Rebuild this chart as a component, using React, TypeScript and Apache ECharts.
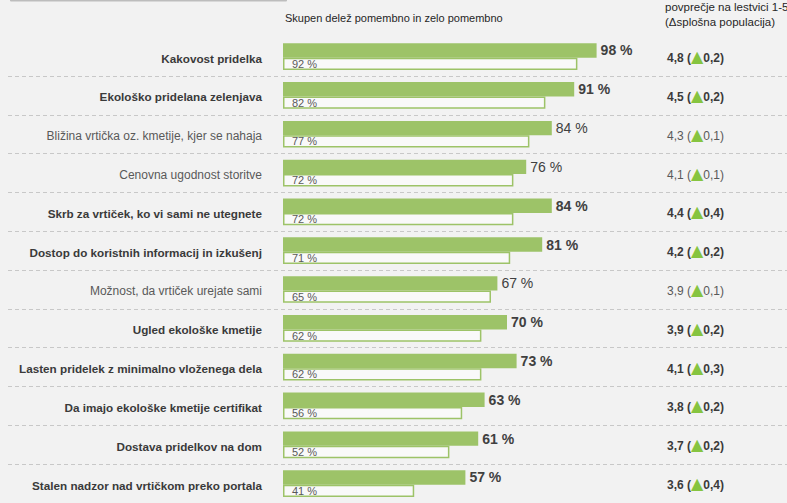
import React, { useEffect, useRef } from "react";
import * as echarts from "echarts";

const categories = [
  "Kakovost pridelka",
  "Ekološko pridelana zelenjava",
  "Bližina vrtička oz. kmetije, kjer se nahaja",
  "Cenovna ugodnost storitve",
  "Skrb za vrtiček, ko vi sami ne utegnete",
  "Dostop do koristnih informacij in izkušenj",
  "Možnost, da vrtiček urejate sami",
  "Ugled ekološke kmetije",
  "Lasten pridelek z minimalno vloženega dela",
  "Da imajo ekološke kmetije certifikat",
  "Dostava pridelkov na dom",
  "Stalen nadzor nad vrtičkom preko portala",
];
const shareTarget = [98, 91, 84, 76, 84, 81, 67, 70, 73, 63, 61, 57];
const shareGeneral = [92, 82, 77, 72, 72, 71, 65, 62, 62, 56, 52, 41];
const meanScore = ["4,8", "4,5", "4,3", "4,1", "4,4", "4,2", "3,9", "3,9", "4,1", "3,8", "3,7", "3,6"];
const meanDelta = ["0,2", "0,2", "0,1", "0,1", "0,4", "0,2", "0,1", "0,2", "0,3", "0,2", "0,2", "0,4"];
const significant = [true, true, false, false, true, true, false, true, true, true, true, true];

const headerLeft = "Skupen delež pomembno in zelo pomembno";
const headerRight1 = "povprečje na lestvici 1-5";
const headerRight2 = "(Δsplošna populacija)";

const GREEN = "#9dc368";
const FONT = "'Liberation Sans', Arial, sans-serif";

export default function App() {
  const ref = useRef<HTMLDivElement>(null);
  useEffect(() => {
    if (!ref.current) return;
    const chart = echarts.init(ref.current, null, { renderer: "svg" });
    const top = 37.2;
    const height = 474;
    const option: any = {
      animation: false,
      backgroundColor: "#f2f2f2",
      textStyle: { fontFamily: FONT },
      grid: [
        { left: 8, right: 0, top, height },
        { left: 283, width: 320, top, height },
      ],
      xAxis: [
        { gridIndex: 0, type: "value", min: 0, max: 1, show: false },
        { gridIndex: 1, type: "value", min: 0, max: 100, show: false },
      ],
      yAxis: [
        {
          gridIndex: 0,
          type: "category",
          data: categories,
          inverse: true,
          axisLine: { show: false },
          axisTick: { show: false },
          axisLabel: { show: false },
          splitLine: {
            show: true,
            showMinLine: false,
            lineStyle: { type: [4, 3], color: "#c8c8c8", width: 1 },
          },
        },
        {
          gridIndex: 1,
          type: "category",
          data: categories,
          inverse: true,
          axisLine: { show: false },
          axisTick: { show: false },
          splitLine: { show: false },
          axisLabel: {
            margin: 21,
            formatter: (v: string, i: number) => (significant[i] ? `{b|${v}}` : `{n|${v}}`),
            rich: {
              b: { fontFamily: FONT, fontSize: 11.7, fontWeight: "bold", color: "#3a3a3a", padding: [3, 0, 0, 0] },
              n: { fontFamily: FONT, fontSize: 12, color: "#595959", padding: [3, 0, 0, 0] },
            },
          },
        },
        {
          gridIndex: 1,
          type: "category",
          data: categories,
          inverse: true,
          position: "right",
          axisLine: { show: false },
          axisTick: { show: false },
          splitLine: { show: false },
          axisLabel: {
            margin: 64,
            align: "left",
            formatter: (_v: string, i: number) => {
              const s = significant[i] ? "b" : "n";
              return `{${s}|${meanScore[i]} (}{t|▲}{${s}|${meanDelta[i]})}`;
            },
            rich: {
              b: { fontFamily: FONT, fontSize: 12, fontWeight: "bold", color: "#3a3a3a", padding: [3, 0, 0, 0] },
              n: { fontFamily: FONT, fontSize: 12, color: "#595959", padding: [3, 0, 0, 0] },
              t: { fontFamily: "'DejaVu Sans', sans-serif", fontSize: 16, color: "#86c440", padding: [0, 0, 0, 0] },
            },
          },
        },
      ],
      series: [
        {
          type: "bar",
          xAxisIndex: 1,
          yAxisIndex: 1,
          barWidth: 14.4,
          barGap: 0,
          data: shareTarget.map((v, i) => ({
            value: v,
            label: { fontWeight: significant[i] ? "bold" : "normal" },
          })),
          itemStyle: { color: GREEN },
          label: {
            show: true,
            position: "right",
            distance: 4,
            formatter: "{c} %",
            fontFamily: FONT,
            fontSize: 14,
            color: "#404040",
          },
        },
        {
          type: "bar",
          xAxisIndex: 1,
          yAxisIndex: 1,
          barWidth: 12.3,
          barGap: 0,
          data: shareGeneral,
          itemStyle: { color: "#f9f9f9", borderColor: GREEN, borderWidth: 1.5 },
          label: {
            show: true,
            position: "insideLeft",
            distance: 9,
            formatter: "{c} %",
            fontFamily: FONT,
            fontSize: 11,
            color: "#595959",
          },
        },
      ],
      graphic: [
        { type: "rect", shape: { x: 10, y: -1, width: 277, height: 2.6, r: 1 }, style: { fill: "#bdbdbd" } },
        {
          type: "text",
          x: 285,
          y: 18,
          style: { text: headerLeft, fontFamily: FONT, fontSize: 11, fill: "#262626", verticalAlign: "middle" },
        },
        {
          type: "text",
          x: 665,
          y: 7,
          style: { text: headerRight1, fontFamily: FONT, fontSize: 11.5, fill: "#262626", verticalAlign: "middle" },
        },
        {
          type: "text",
          x: 665,
          y: 22,
          style: { text: headerRight2, fontFamily: FONT, fontSize: 11.5, fill: "#262626", verticalAlign: "middle" },
        },
      ],
    };
    chart.setOption(option);
    return () => chart.dispose();
  }, []);
  return (
    <div
      ref={ref}
      style={{ position: "absolute", left: 0, top: 0, width: 787, height: 503 }}
    />
  );
}
